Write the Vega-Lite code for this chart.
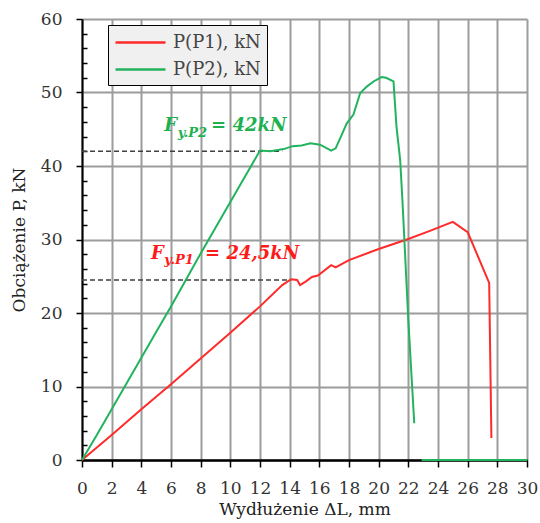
{
  "$schema": "https://vega.github.io/schema/vega-lite/v6.json",
  "width": 445,
  "height": 441,
  "autosize": {"type": "none"},
  "padding": {"left": 82, "top": 19, "right": 13, "bottom": 63},
  "background": "white",
  "config": {
    "view": {"stroke": null},
    "font": "DejaVu Serif"
  },
  "datasets": {
    "curves": [
      {"series": "P(P1), kN", "seg": "a", "x": 0, "y": 0},
      {"series": "P(P1), kN", "seg": "a", "x": 2, "y": 3.4},
      {"series": "P(P1), kN", "seg": "a", "x": 4, "y": 6.9},
      {"series": "P(P1), kN", "seg": "a", "x": 6, "y": 10.3},
      {"series": "P(P1), kN", "seg": "a", "x": 8, "y": 13.8},
      {"series": "P(P1), kN", "seg": "a", "x": 10, "y": 17.3},
      {"series": "P(P1), kN", "seg": "a", "x": 12, "y": 20.9},
      {"series": "P(P1), kN", "seg": "a", "x": 13.5, "y": 23.8},
      {"series": "P(P1), kN", "seg": "a", "x": 14.1, "y": 24.6},
      {"series": "P(P1), kN", "seg": "a", "x": 14.5, "y": 24.5},
      {"series": "P(P1), kN", "seg": "a", "x": 14.7, "y": 23.8},
      {"series": "P(P1), kN", "seg": "a", "x": 15.1, "y": 24.3},
      {"series": "P(P1), kN", "seg": "a", "x": 15.5, "y": 24.9},
      {"series": "P(P1), kN", "seg": "a", "x": 15.9, "y": 25.1},
      {"series": "P(P1), kN", "seg": "a", "x": 16.8, "y": 26.5},
      {"series": "P(P1), kN", "seg": "a", "x": 17.1, "y": 26.2},
      {"series": "P(P1), kN", "seg": "a", "x": 18, "y": 27.2},
      {"series": "P(P1), kN", "seg": "a", "x": 20, "y": 28.7},
      {"series": "P(P1), kN", "seg": "a", "x": 21.9, "y": 30},
      {"series": "P(P1), kN", "seg": "a", "x": 23.5, "y": 31.2},
      {"series": "P(P1), kN", "seg": "a", "x": 25, "y": 32.4},
      {"series": "P(P1), kN", "seg": "a", "x": 26, "y": 31},
      {"series": "P(P1), kN", "seg": "a", "x": 27.45, "y": 24.1},
      {"series": "P(P1), kN", "seg": "a", "x": 27.6, "y": 3},
      {"series": "P(P2), kN", "seg": "a", "x": 0, "y": 0},
      {"series": "P(P2), kN", "seg": "a", "x": 1, "y": 3.4},
      {"series": "P(P2), kN", "seg": "a", "x": 2, "y": 6.9},
      {"series": "P(P2), kN", "seg": "a", "x": 3, "y": 10.4},
      {"series": "P(P2), kN", "seg": "a", "x": 4, "y": 13.9},
      {"series": "P(P2), kN", "seg": "a", "x": 5, "y": 17.4},
      {"series": "P(P2), kN", "seg": "a", "x": 6, "y": 20.9},
      {"series": "P(P2), kN", "seg": "a", "x": 7, "y": 24.5},
      {"series": "P(P2), kN", "seg": "a", "x": 8, "y": 28.1},
      {"series": "P(P2), kN", "seg": "a", "x": 9, "y": 31.6},
      {"series": "P(P2), kN", "seg": "a", "x": 10, "y": 35.1},
      {"series": "P(P2), kN", "seg": "a", "x": 11, "y": 38.6},
      {"series": "P(P2), kN", "seg": "a", "x": 12, "y": 42.1},
      {"series": "P(P2), kN", "seg": "a", "x": 12.7, "y": 42},
      {"series": "P(P2), kN", "seg": "a", "x": 13.6, "y": 42.3},
      {"series": "P(P2), kN", "seg": "a", "x": 14.2, "y": 42.7},
      {"series": "P(P2), kN", "seg": "a", "x": 14.8, "y": 42.8},
      {"series": "P(P2), kN", "seg": "a", "x": 15.4, "y": 43.1},
      {"series": "P(P2), kN", "seg": "a", "x": 16.05, "y": 42.9},
      {"series": "P(P2), kN", "seg": "a", "x": 16.8, "y": 42.1},
      {"series": "P(P2), kN", "seg": "a", "x": 17.1, "y": 42.4},
      {"series": "P(P2), kN", "seg": "a", "x": 17.5, "y": 44.2},
      {"series": "P(P2), kN", "seg": "a", "x": 17.85, "y": 45.8},
      {"series": "P(P2), kN", "seg": "a", "x": 18.3, "y": 47},
      {"series": "P(P2), kN", "seg": "a", "x": 18.75, "y": 49.9},
      {"series": "P(P2), kN", "seg": "a", "x": 19.2, "y": 50.8},
      {"series": "P(P2), kN", "seg": "a", "x": 19.65, "y": 51.5},
      {"series": "P(P2), kN", "seg": "a", "x": 20.2, "y": 52.1},
      {"series": "P(P2), kN", "seg": "a", "x": 20.5, "y": 52},
      {"series": "P(P2), kN", "seg": "a", "x": 21, "y": 51.5},
      {"series": "P(P2), kN", "seg": "a", "x": 21.2, "y": 45.4},
      {"series": "P(P2), kN", "seg": "a", "x": 21.45, "y": 40.8},
      {"series": "P(P2), kN", "seg": "a", "x": 21.6, "y": 35.4},
      {"series": "P(P2), kN", "seg": "a", "x": 22, "y": 19},
      {"series": "P(P2), kN", "seg": "a", "x": 22.4, "y": 5},
      {"series": "P(P2), kN", "seg": "b", "x": 22.9, "y": 0},
      {"series": "P(P2), kN", "seg": "b", "x": 30, "y": 0}
    ],
    "thresholds": [
      {"series": "P2", "x": 0, "xe": 13.5, "y": 42},
      {"series": "P1", "x": 0, "xe": 14.1, "y": 24.5}
    ],
    "labels": [
      {"series": "P2", "part": "main", "x": 5.55, "y": 44.7, "text": "F"},
      {"series": "P2", "part": "sub", "x": 6.45, "y": 43.9, "text": "y.P2"},
      {"series": "P2", "part": "main", "x": 8.7, "y": 44.7, "text": "= 42kN"},
      {"series": "P1", "part": "main", "x": 4.65, "y": 27.4, "text": "F"},
      {"series": "P1", "part": "sub", "x": 5.55, "y": 26.6, "text": "y.P1"},
      {"series": "P1", "part": "main", "x": 8.3, "y": 27.4, "text": "= 24,5kN"}
    ]
  },
  "encoding": {
    "x": {
      "field": "x",
      "type": "quantitative",
      "scale": {"domain": [0, 30], "nice": false, "zero": false},
      "axis": {
        "values": [0, 2, 4, 6, 8, 10, 12, 14, 16, 18, 20, 22, 24, 26, 28, 30],
        "title": "Wydłużenie ΔL, mm",
        "grid": true,
        "gridColor": "#9c9c9c",
        "gridWidth": 2,
        "domainColor": "black",
        "domainWidth": 2.5,
        "tickColor": "black",
        "tickWidth": 1.5,
        "tickSize": 7,
        "labelFontSize": 17,
        "labelColor": "#333",
        "labelPadding": 13,
        "labelFlush": false,
        "labelOverlap": false,
        "titleFontSize": 17,
        "titleFontWeight": "normal",
        "titleColor": "#222",
        "titlePadding": 5
      }
    },
    "y": {
      "field": "y",
      "type": "quantitative",
      "scale": {"domain": [0, 60], "nice": false, "zero": false},
      "axis": {
        "values": [0, 2, 4, 6, 8, 10, 12, 14, 16, 18, 20, 22, 24, 26, 28, 30, 32, 34, 36, 38, 40, 42, 44, 46, 48, 50, 52, 54, 56, 58, 60],
        "labelExpr": "datum.value % 10 === 0 ? datum.label : ''",
        "title": "Obciążenie P, kN",
        "grid": true,
        "gridColor": "#9c9c9c",
        "gridWidth": 2,
        "gridOpacity": {"condition": {"test": "datum.value % 10 === 0", "value": 1}, "value": 0},
        "tickSize": {"condition": {"test": "datum.value % 10 === 0", "value": 6}, "value": -5},
        "domainColor": "black",
        "domainWidth": 2,
        "tickColor": "black",
        "tickWidth": 1.5,
        "labelFontSize": 17,
        "labelColor": "#333",
        "labelPadding": 14,
        "labelFlush": false,
        "labelOverlap": false,
        "titleFontSize": 17,
        "titleFontWeight": "normal",
        "titleColor": "#222",
        "titlePadding": 12
      }
    }
  },
  "layer": [
    {
      "data": {"name": "thresholds"},
      "mark": {"type": "rule", "color": "#404040", "strokeWidth": 1.5, "strokeDash": [5, 3]},
      "encoding": {"x2": {"field": "xe"}}
    },
    {
      "data": {"name": "curves"},
      "mark": {"type": "line", "strokeWidth": 2},
      "encoding": {
        "color": {
          "field": "series",
          "type": "nominal",
          "scale": {"domain": ["P(P1), kN", "P(P2), kN"], "range": ["#ff2a2a", "#22b35e"]},
          "legend": {
            "orient": "none",
            "legendX": 26,
            "legendY": 6,
            "title": null,
            "fillColor": "#f0f0f0",
            "strokeColor": "black",
            "padding": 6,
            "symbolType": "M-1,0H4",
            "symbolSize": 400,
            "symbolStrokeWidth": 2.5,
            "labelFontSize": 18,
            "labelColor": "#444",
            "labelOffset": 36,
            "rowPadding": 6,
            "labelLimit": 300
          }
        },
        "detail": {"field": "seg"}
      }
    },
    {
      "data": {"name": "labels"},
      "transform": [{"filter": "datum.series === 'P2' && datum.part === 'main'"}],
      "mark": {"type": "text", "align": "left", "baseline": "alphabetic", "fontSize": 18, "fontWeight": "bold", "fontStyle": "italic", "color": "#20b050"},
      "encoding": {"text": {"field": "text"}}
    },
    {
      "data": {"name": "labels"},
      "transform": [{"filter": "datum.series === 'P2' && datum.part === 'sub'"}],
      "mark": {"type": "text", "align": "left", "baseline": "alphabetic", "fontSize": 13, "fontWeight": "bold", "fontStyle": "italic", "color": "#20b050"},
      "encoding": {"text": {"field": "text"}}
    },
    {
      "data": {"name": "labels"},
      "transform": [{"filter": "datum.series === 'P1' && datum.part === 'main'"}],
      "mark": {"type": "text", "align": "left", "baseline": "alphabetic", "fontSize": 18, "fontWeight": "bold", "fontStyle": "italic", "color": "#ff1a1a"},
      "encoding": {"text": {"field": "text"}}
    },
    {
      "data": {"name": "labels"},
      "transform": [{"filter": "datum.series === 'P1' && datum.part === 'sub'"}],
      "mark": {"type": "text", "align": "left", "baseline": "alphabetic", "fontSize": 13, "fontWeight": "bold", "fontStyle": "italic", "color": "#ff1a1a"},
      "encoding": {"text": {"field": "text"}}
    }
  ]
}
